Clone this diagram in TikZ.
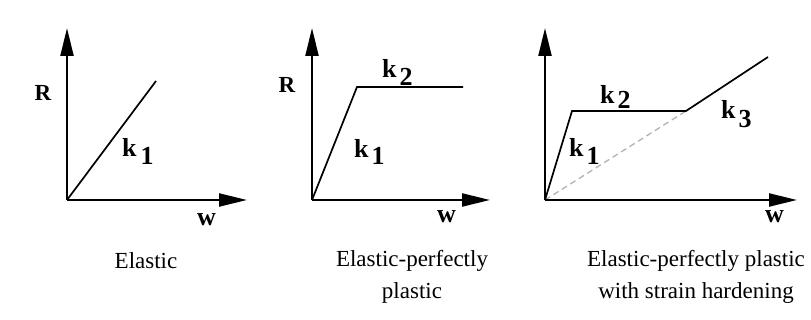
\documentclass[tikz,border=0pt]{standalone}
\usepackage{fontspec}
\setmainfont{Liberation Serif}
\usetikzlibrary{arrows.meta}
\begin{document}
\begin{tikzpicture}[x=1pt,y=1pt,
  axis/.style={line width=2.2pt,-{Triangle[length=28pt,width=13pt]}},
  curve/.style={line width=1.7pt},
  dashline/.style={line width=1.3pt,gray!60,dash pattern=on 6pt off 4pt},
  lbl/.style={font=\fontsize{23}{26}\selectfont\bfseries,inner sep=0pt},
  klbl/.style={font=\fontsize{26}{28}\selectfont\bfseries,inner sep=0pt,anchor=base west},
  captxt/.style={font=\fontsize{23}{26}\selectfont,inner sep=0pt,align=center}]
\useasboundingbox (0,0) rectangle (811,320);
% Panel 1
\coordinate (o1) at (67,120);
\coordinate (y1) at (67,292);
\coordinate (x1) at (247,120);
\coordinate (e1) at (156,239);
\draw[axis] (o1) -- (y1);
\draw[axis] (o1) -- (x1);
\draw[curve] (o1) -- (e1);
\node[lbl] (r1) at (43,227) {R};
\node[klbl] (w1) at (197,94) {w};
\node[klbl] (k11) at (122,163) {k\hspace{4pt}\raisebox{-8pt}{1}};
% Panel 2
\coordinate (o2) at (312,120);
\coordinate (y2) at (312,292);
\coordinate (x2) at (490,120);
\coordinate (p2) at (357,233);
\coordinate (q2) at (463,233);
\draw[axis] (o2) -- (y2);
\draw[axis] (o2) -- (x2);
\draw[curve] (o2) -- (p2) -- (q2);
\node[lbl] (r2) at (287,235) {R};
\node[klbl] (w2) at (437,97) {w};
\node[klbl] (k21) at (354,162) {k\hspace{3pt}\raisebox{-7pt}{1}};
\node[klbl] (k22) at (382,242) {k\hspace{3pt}\raisebox{-8pt}{2}};
% Panel 3
\coordinate (o3) at (545,120);
\coordinate (y3) at (545,292);
\coordinate (x3) at (797,120);
\coordinate (p3) at (572,209);
\coordinate (q3) at (686,209);
\coordinate (s3) at (768,263);
\draw[dashline] (o3) -- (q3);
\draw[axis] (o3) -- (y3);
\draw[axis] (o3) -- (x3);
\draw[curve] (o3) -- (p3) -- (q3) -- (s3);
\node[klbl] (w3) at (765,97) {w};
\node[klbl] (k31) at (569,163) {k\hspace{3pt}\raisebox{-8pt}{1}};
\node[klbl] (k32) at (600,216) {k\hspace{3pt}\raisebox{-5pt}{2}};
\node[klbl] (k33) at (721,201) {k\hspace{3pt}\raisebox{-9pt}{3}};
% Captions
\node[captxt] (cap1) at (146,59) {Elastic};
\node[captxt] (cap2a) at (412,59) {Elastic-perfectly};
\node[captxt] (cap2b) at (412,27) {plastic};
\node[captxt] (cap3a) at (696,59) {Elastic-perfectly plastic};
\node[captxt] (cap3b) at (696,27) {with strain hardening};
\end{tikzpicture}
\end{document}
